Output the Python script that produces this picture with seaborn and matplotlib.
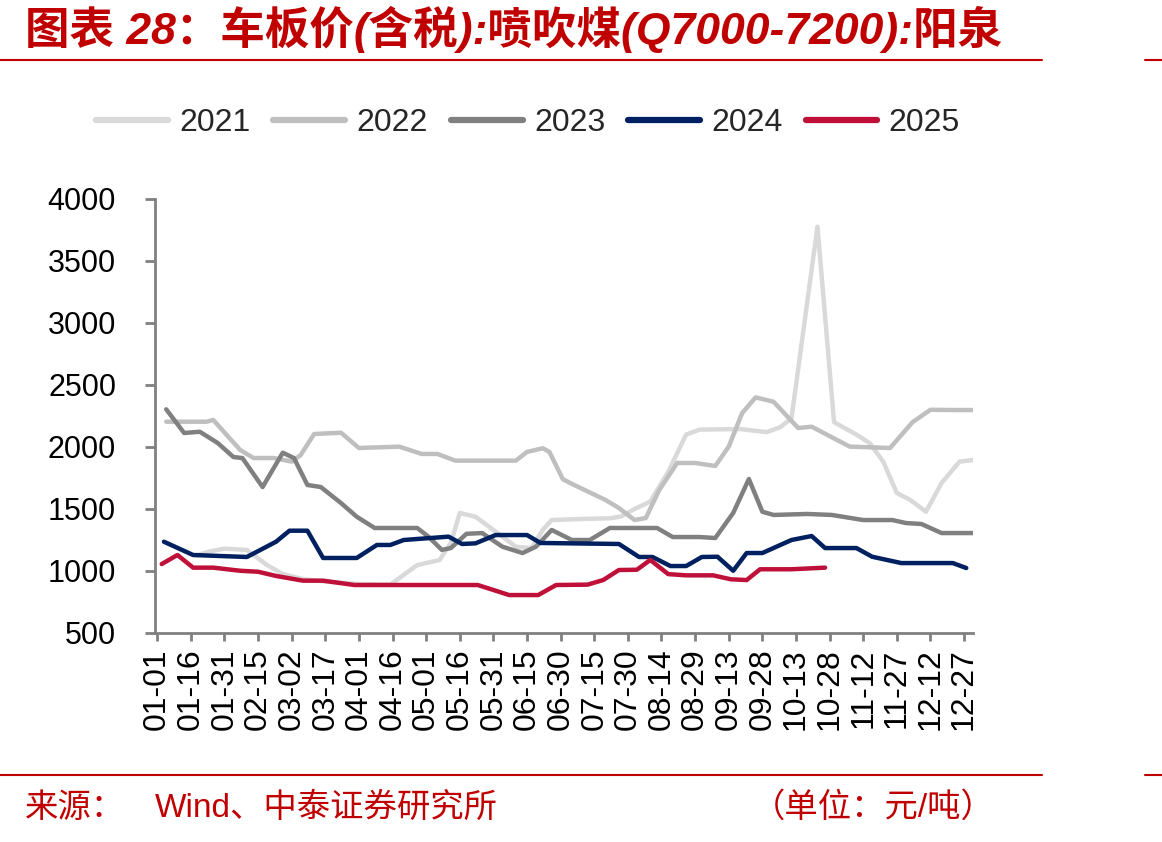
import numpy as np
import pandas as pd
import matplotlib
matplotlib.use("Agg")
import matplotlib.pyplot as plt
from matplotlib.lines import Line2D
import seaborn as sns

# ---------------- data (day offset from 01-01, price in 元/吨) ----------------
days_2021 = [18, 24, 30, 40, 49, 56, 65, 75, 90, 104, 116, 126, 131, 135, 142, 150, 160, 167,
             172, 176, 190, 202, 207, 213, 220, 228, 236, 242, 260, 272, 278, 283, 294.6, 302,
             312, 318, 324, 330, 336, 343, 350, 358, 364]
price_2021 = [1129, 1160, 1180, 1170, 1048, 975, 935, 915, 895, 890, 1048, 1089, 1226, 1468,
              1438, 1331, 1196, 1185, 1331, 1411, 1420, 1425, 1440, 1500, 1560, 1800, 2100, 2140,
              2145, 2120, 2160, 2230, 3777, 2200, 2100, 2030, 1880, 1629, 1573, 1478, 1710, 1882, 1895]

days_2022 = [4, 22, 25, 37, 43, 52, 60, 64, 70, 82, 90, 108, 118, 125, 133, 160, 165, 172, 175,
             181, 186, 200, 206, 213, 218, 224, 232, 240, 249, 255, 261, 267, 275, 286, 292,
             309, 327, 337, 345, 356, 364]
price_2022 = [2204, 2204, 2218, 1976, 1911, 1911, 1882, 1935, 2105, 2115, 1992, 2003, 1944, 1944,
              1890, 1890, 1960, 1990, 1960, 1740, 1694, 1573, 1508, 1411, 1427, 1653, 1871, 1871,
              1847, 2003, 2274, 2400, 2365, 2153, 2164, 2003, 1992, 2200, 2300, 2298, 2298]

days_2023 = [4, 12, 19, 27, 34, 38, 47, 56, 61, 67, 73, 82, 89, 97, 116, 121, 127, 131, 138, 145,
             154, 163, 169, 176, 185, 193, 202, 223, 230, 242, 249, 257, 264, 270, 275, 290,
             301, 315, 328, 334, 341, 350, 364]
price_2023 = [2304, 2113, 2123, 2032, 1919, 1911, 1677, 1954, 1911, 1694, 1677, 1548, 1438, 1347,
              1347, 1277, 1170, 1185, 1300, 1306, 1196, 1145, 1196, 1331, 1250, 1250, 1347, 1347,
              1274, 1274, 1266, 1468, 1742, 1478, 1452, 1460, 1452, 1411, 1411, 1387, 1379, 1306, 1306]

days_2024 = [3, 16, 40, 53, 59, 67, 74, 89, 98, 104, 110, 130, 136, 142, 151, 165, 171, 206, 215,
             221, 229, 236, 243, 250, 257, 263, 270, 283, 292, 298, 312, 319, 332, 355, 361]
price_2024 = [1236, 1129, 1113, 1236, 1325, 1325, 1105, 1105, 1210, 1210, 1250, 1277, 1218, 1223,
              1290, 1290, 1226, 1218, 1113, 1113, 1040, 1040, 1113, 1115, 1002, 1145, 1145, 1250,
              1282, 1185, 1185, 1115, 1064, 1064, 1024]

days_2025 = [2, 9, 16, 25, 37, 45, 53, 65, 74, 88, 143, 150, 157, 170, 178, 192, 199, 206, 214,
             220, 228, 236, 248, 256, 263, 269, 283, 298]
price_2025 = [1056, 1129, 1027, 1027, 1002, 994, 960, 922, 922, 887, 887, 847, 806, 806, 887, 890,
              927, 1008, 1010, 1089, 975, 965, 965, 933, 927, 1014, 1014, 1027]

years = ["2021", "2022", "2023", "2024", "2025"]
colors = ["#D9D9D9", "#BFBFBF", "#808080", "#002060", "#BE1038"]

tick_days = list(range(0, 361, 15))
tick_labels = ["01-01", "01-16", "01-31", "02-15", "03-02", "03-17", "04-01", "04-16", "05-01",
               "05-16", "05-31", "06-15", "06-30", "07-15", "07-30", "08-14", "08-29", "09-13",
               "09-28", "10-13", "10-28", "11-12", "11-27", "12-12", "12-27"]
y_ticks = [500, 1000, 1500, 2000, 2500, 3000, 3500, 4000]

title = "图表 28：车板价(含税):喷吹煤(Q7000-7200):阳泉"
source_label = "来源："
source_text = "Wind、中泰证券研究所"
unit_text = "（单位：元/吨）"

# ---------------- build frame ----------------
series = {"2021": (days_2021, price_2021), "2022": (days_2022, price_2022),
          "2023": (days_2023, price_2023), "2024": (days_2024, price_2024),
          "2025": (days_2025, price_2025)}
frames = []
for y in years:
    d, p = series[y]
    frames.append(pd.DataFrame({"day": d, "price": p, "year": y}))
df = pd.concat(frames, ignore_index=True)

# ---------------- plot ----------------
sns.set_theme(style="ticks")
plt.rcParams["font.family"] = ["Liberation Sans", "Noto Sans CJK SC", "DejaVu Sans"]

W, H = 1162, 842
fig = plt.figure(figsize=(W / 100, H / 100), dpi=100)
ax = fig.add_axes([155 / W, 1 - 633 / H, (973 - 155) / W, (633 - 199) / H])

sns.lineplot(data=df, x="day", y="price", hue="year", hue_order=years,
             palette=dict(zip(years, colors)), linewidth=3.2, estimator=None,
             sort=True, ax=ax, legend=True)

ax.set_xlim(-1, 364)
ax.set_ylim(500, 4000)
ax.set_xticks(tick_days)
ax.set_xticklabels(tick_labels, rotation=90, fontsize=23)
ax.set_yticks(y_ticks)
ax.set_yticklabels([str(v) for v in y_ticks], fontsize=22)
ax.set_xlabel("")
ax.set_ylabel("")
for s in ["top", "right"]:
    ax.spines[s].set_visible(False)
for s in ["left", "bottom"]:
    ax.spines[s].set_color("#808080")
    ax.spines[s].set_linewidth(2)
ax.tick_params(axis="y", length=7, width=2, color="#808080", pad=21, labelcolor="black")
ax.tick_params(axis="x", length=6, width=2, color="#808080", pad=5, labelcolor="black")
ax.grid(False)

handles, labels = ax.get_legend_handles_labels()
leg = ax.legend(handles, labels, loc="center", bbox_to_anchor=(528 / W, 1 - 123 / H),
                bbox_transform=fig.transFigure, ncol=5, frameon=False, fontsize=23,
                handlelength=2.25, handletextpad=0.35, columnspacing=0.72)
for h in leg.get_lines():
    h.set_linewidth(4.5)

red = "#C00000"
fig.text(25 / W, 1 - 29 / H, title, color=red, fontsize=32, fontweight="bold",
         fontstyle="italic", ha="left", va="center")
for yy in (60, 775):
    fig.add_artist(Line2D([0, 1042 / W], [1 - yy / H] * 2, color=red, lw=1.5,
                          transform=fig.transFigure))
    fig.add_artist(Line2D([1145 / W, 1.0], [1 - yy / H] * 2, color=red, lw=1.5,
                          transform=fig.transFigure))

fig.text(25 / W, 1 - 808 / H, source_label, color=red, fontsize=24, ha="left", va="center")
fig.text(155 / W, 1 - 808 / H, source_text, color=red, fontsize=24, ha="left", va="center")
fig.text(752 / W, 1 - 808 / H, unit_text, color=red, fontsize=24, ha="left", va="center")

fig.savefig("out.png", dpi=100)
